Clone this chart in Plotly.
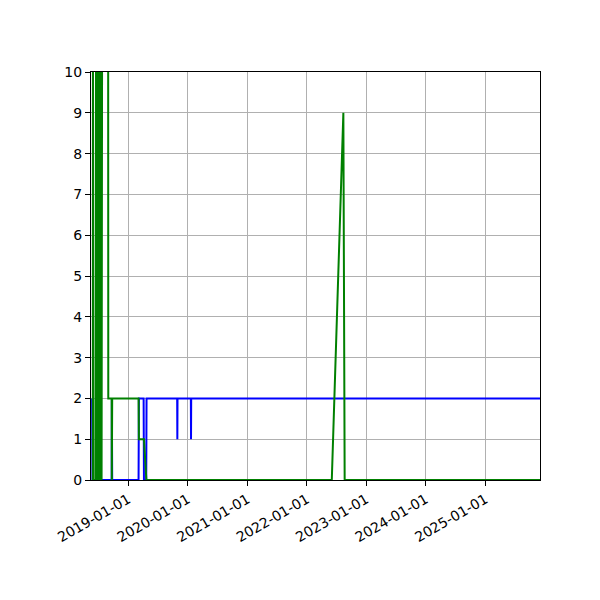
import plotly.graph_objects as go

# blue series (date, value)
blue_dates = ["2018-05-24", "2018-05-26", "2018-09-21", "2018-09-22", "2018-09-24",
              "2019-03-05", "2019-03-07", "2019-04-05", "2019-04-07", "2019-04-21",
              "2019-04-23", "2019-10-28", "2019-10-29", "2019-10-30", "2020-01-20",
              "2020-01-21", "2020-01-22", "2025-12-10"]
blue_values = [2, 0, 0, 2, 0,
               0, 2, 2, 0, 0,
               2, 2, 1, 2, 2,
               1, 2, 2]

# green series (date, value)
green_dates = ["2018-05-28", "2018-05-29", "2018-05-30",
               "2018-06-13", "2018-06-14", "2018-06-15", "2018-06-16", "2018-06-17",
               "2018-06-18", "2018-06-19", "2018-06-20", "2018-06-21", "2018-06-22",
               "2018-06-27", "2018-06-28", "2018-06-29", "2018-06-30", "2018-07-01",
               "2018-07-02", "2018-07-03", "2018-07-04", "2018-07-05", "2018-07-06",
               "2018-07-07", "2018-07-08", "2018-07-09", "2018-07-10", "2018-07-11",
               "2018-07-12", "2018-07-13", "2018-07-14", "2018-07-15", "2018-07-16",
               "2018-07-17", "2018-07-18", "2018-07-19", "2018-07-20", "2018-07-21",
               "2018-07-22", "2018-07-23", "2018-07-24", "2018-07-25",
               "2018-08-30", "2018-08-31",
               "2018-09-21", "2018-09-22", "2018-09-24", "2019-03-05", "2019-03-07",
               "2019-04-07", "2019-04-22", "2022-06-03", "2022-08-13", "2022-08-21",
               "2025-12-10"]
green_values = [0, 14, 0,
                0, 14, 0, 14, 0,
                14, 0, 14, 0, 0,
                0, 14, 0, 14, 0,
                14, 0, 14, 0, 14,
                0, 14, 0, 14, 0,
                14, 0, 14, 0, 14,
                0, 14, 0, 14, 0,
                14, 0, 0, 14,
                14, 2,
                2, 0, 2, 2, 1,
                1, 0, 0, 9, 0,
                0]

x_ticks = ["2019-01-01", "2020-01-01", "2021-01-01", "2022-01-01",
           "2023-01-01", "2024-01-01", "2025-01-01"]
y_ticks = list(range(0, 11))

fig = go.Figure()
fig.add_trace(go.Scatter(x=blue_dates, y=blue_values, mode="lines",
                         line=dict(color="blue", width=2)))
fig.add_trace(go.Scatter(x=green_dates, y=green_values, mode="lines",
                         line=dict(color="green", width=2)))

axis_style = dict(showline=True, linecolor="black", linewidth=1, mirror=True,
                  ticks="outside", ticklen=5, tickcolor="black", tickwidth=1,
                  showgrid=True, gridcolor="#b0b0b0", gridwidth=1,
                  zeroline=False, tickfont=dict(size=14, color="black"))

# page body adds 8px, so margins are shifted to match
fig.update_layout(
    width=600, height=600,
    margin=dict(l=83, r=68, t=64, b=128),
    plot_bgcolor="white", paper_bgcolor="white",
    font=dict(family="DejaVu Sans", size=14, color="black"),
    showlegend=False,
    xaxis=dict(range=["2018-05-17", "2025-12-02"], tickvals=x_ticks,
               ticktext=x_ticks, tickangle=-30, **axis_style),
    yaxis=dict(range=[0, 10], tickvals=y_ticks, **axis_style),
)

fig.write_html("out.html")
